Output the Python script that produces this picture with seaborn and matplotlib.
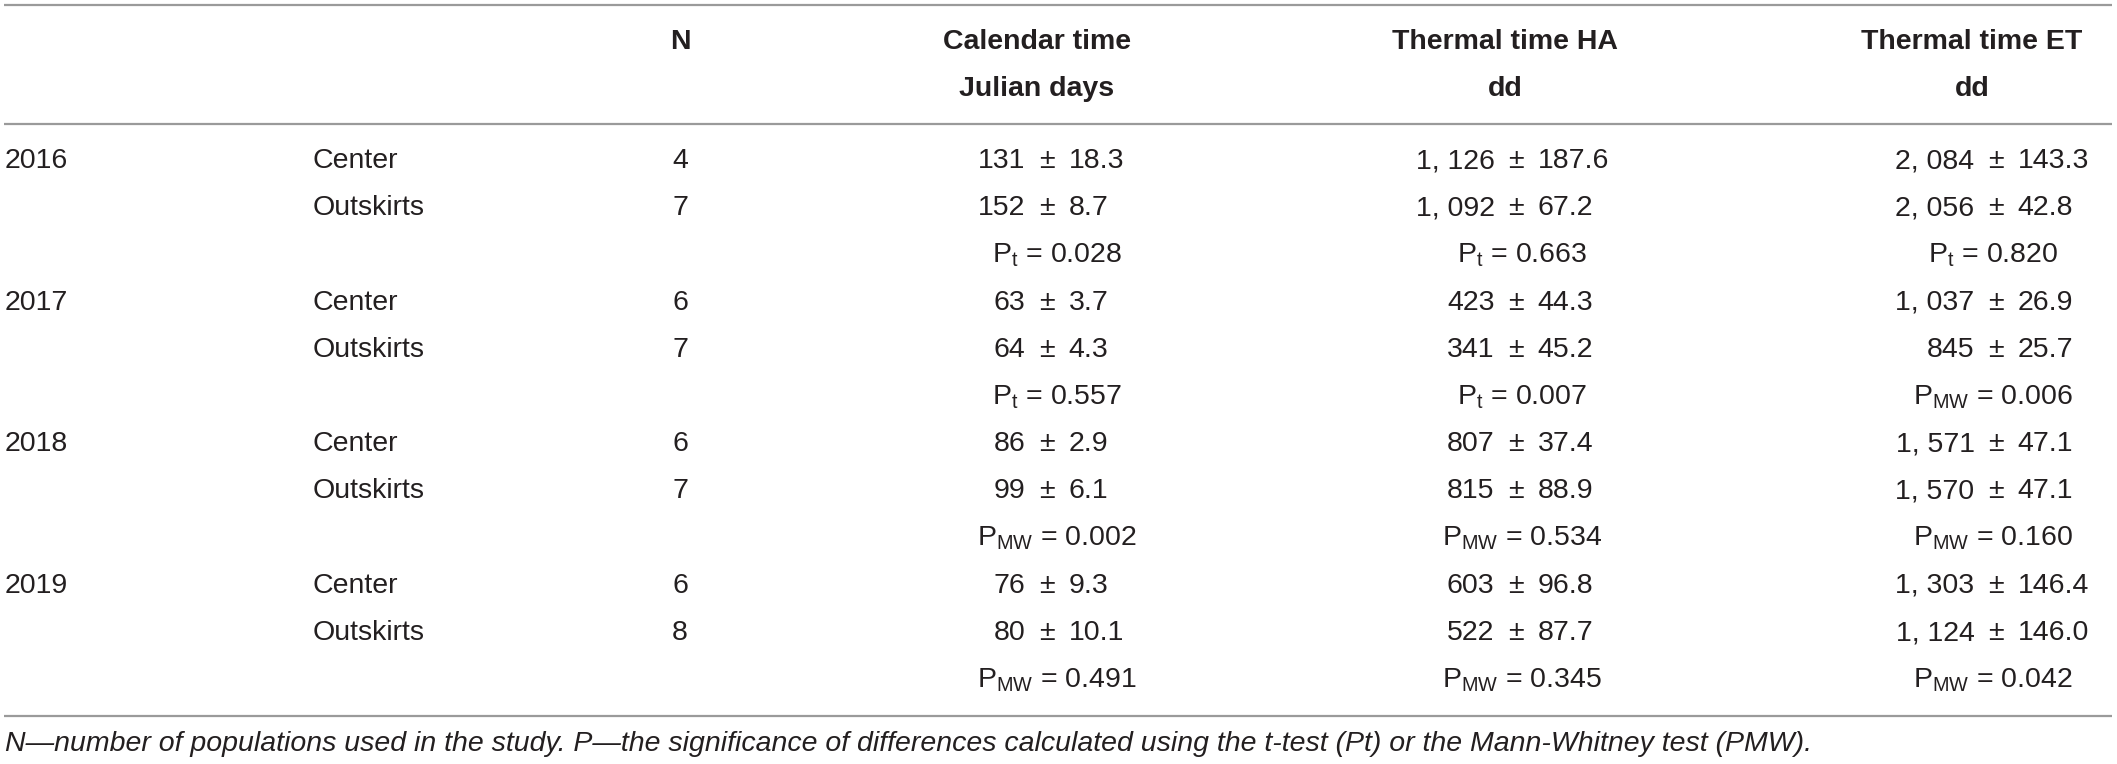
import matplotlib

matplotlib.use("Agg")
import matplotlib.pyplot as plt
import seaborn as sns

# table data
years = ["2016", "2017", "2018", "2019"]
groups = ["Center", "Outskirts"]
n_pop = [[4, 7], [6, 7], [6, 7], [6, 8]]

cal_mean = [[131, 152], [63, 64], [86, 99], [76, 80]]
cal_sd = [[18.3, 8.7], [3.7, 4.3], [2.9, 6.1], [9.3, 10.1]]
ha_mean = [[1126, 1092], [423, 341], [807, 815], [603, 522]]
ha_sd = [[187.6, 67.2], [44.3, 45.2], [37.4, 88.9], [96.8, 87.7]]
et_mean = [[2084, 2056], [1037, 845], [1571, 1570], [1303, 1124]]
et_sd = [[143.3, 42.8], [26.9, 25.7], [47.1, 47.1], [146.4, 146.0]]

test_cal = ["t", "t", "MW", "MW"]
p_cal = [0.028, 0.557, 0.002, 0.491]
test_ha = ["t", "t", "MW", "MW"]
p_ha = [0.663, 0.007, 0.534, 0.345]
test_et = ["t", "MW", "MW", "MW"]
p_et = [0.820, 0.006, 0.160, 0.042]

headers_top = ["N", "Calendar time", "Thermal time HA", "Thermal time ET"]
headers_bottom = ["", "Julian days", "dd", "dd"]
caption = ("N\u2014number of populations used in the study. P\u2014the significance of "
           "differences calculated using the t-test (Pt) or the Mann-Whitney test (PMW).")

sns.set_theme(style="white")
plt.rcParams["font.family"] = ["Liberation Sans", "DejaVu Sans"]
plt.rcParams["mathtext.default"] = "regular"

W, H = 2117, 764
fig = plt.figure(figsize=(W / 100, H / 100), dpi=100)
ax = fig.add_axes([0, 0, 1, 1])
ax.set_xlim(0, W)
ax.set_ylim(H, 0)
ax.axis("off")

fs = 20.5
txt = "#231f20"
line_c = "#9a9a9a"

# rules
for y in (5, 124, 716):
    ax.plot([4, 2112], [y, y], color=line_c, lw=1.6, solid_capstyle="butt")

# header
head_x = [680, 1037, 1505, 1972]
for x, t1, t2 in zip(head_x, headers_top, headers_bottom):
    ax.text(x, 42, t1, ha="center", va="center", fontsize=fs, fontweight="bold", color=txt)
    if t2:
        ax.text(x, 89, t2, ha="center", va="center", fontsize=fs, fontweight="bold", color=txt)

row0, step = 161, 47.2
pm_x = [1047, 1516, 1996]
p_x = [1057, 1522, 1993]
gap = 21.5


def fmt(v):
    return f"{v:,}".replace(",", ", ")


cols = [(cal_mean, cal_sd, test_cal, p_cal),
        (ha_mean, ha_sd, test_ha, p_ha),
        (et_mean, et_sd, test_et, p_et)]

for i, yr in enumerate(years):
    y_base = row0 + step * 3 * i
    ax.text(5, y_base, yr, ha="left", va="center", fontsize=fs, color=txt)
    for j, g in enumerate(groups):
        y = y_base + step * j
        ax.text(313, y, g, ha="left", va="center", fontsize=fs, color=txt)
        ax.text(680, y, str(n_pop[i][j]), ha="center", va="center", fontsize=fs, color=txt)
        for k, (mean, sd, _, _) in enumerate(cols):
            x0 = pm_x[k]
            ax.text(x0 - gap, y, fmt(mean[i][j]), ha="right", va="center", fontsize=fs, color=txt)
            ax.text(x0, y, "\u00b1", ha="center", va="center", fontsize=fs, color=txt)
            ax.text(x0 + gap, y, f"{sd[i][j]:.1f}", ha="left", va="center", fontsize=fs, color=txt)
    y = y_base + step * 2
    for k, (_, _, test, p) in enumerate(cols):
        ax.text(p_x[k], y, f"P$_{{{test[i]}}}$ = {p[i]:.3f}", ha="center", va="center",
                fontsize=fs, color=txt)

ax.text(5, 744, caption, ha="left", va="center", fontsize=fs, fontstyle="italic", color=txt)

fig.savefig("out.png", dpi=100)
plt.close(fig)
